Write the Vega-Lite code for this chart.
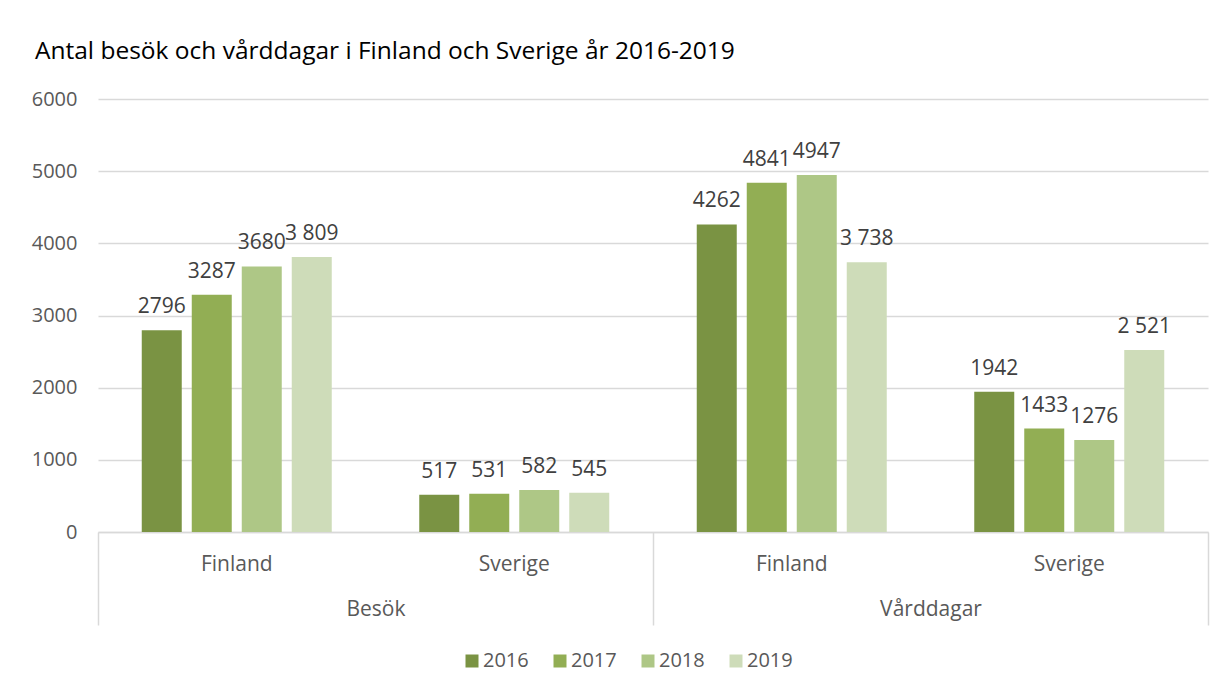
{
  "$schema": "https://vega.github.io/schema/vega-lite/v6.json",
  "width": 1110,
  "height": 433,
  "autosize": "none",
  "padding": {"left": 98, "top": 99, "right": 18, "bottom": 158},
  "background": "white",
  "config": {"view": {"stroke": null}, "font": "Open Sans"},
  "title": {
    "text": "Antal besök och vårddagar i Finland och Sverige år 2016-2019",
    "anchor": "start",
    "frame": "group",
    "dx": -63,
    "offset": 25,
    "fontSize": 24.5,
    "font": "Open Sans",
    "fontWeight": "normal",
    "color": "#000000"
  },
  "data": {
    "values": [
      {"mått": "Besök", "land": "Finland", "grupp": "Besök Finland", "år": "2016", "antal": 2796, "etikett": "2796"},
      {"mått": "Besök", "land": "Finland", "grupp": "Besök Finland", "år": "2017", "antal": 3287, "etikett": "3287"},
      {"mått": "Besök", "land": "Finland", "grupp": "Besök Finland", "år": "2018", "antal": 3680, "etikett": "3680"},
      {"mått": "Besök", "land": "Finland", "grupp": "Besök Finland", "år": "2019", "antal": 3809, "etikett": "3 809"},
      {"mått": "Besök", "land": "Sverige", "grupp": "Besök Sverige", "år": "2016", "antal": 517, "etikett": "517"},
      {"mått": "Besök", "land": "Sverige", "grupp": "Besök Sverige", "år": "2017", "antal": 531, "etikett": "531"},
      {"mått": "Besök", "land": "Sverige", "grupp": "Besök Sverige", "år": "2018", "antal": 582, "etikett": "582"},
      {"mått": "Besök", "land": "Sverige", "grupp": "Besök Sverige", "år": "2019", "antal": 545, "etikett": "545"},
      {"mått": "Vårddagar", "land": "Finland", "grupp": "Vårddagar Finland", "år": "2016", "antal": 4262, "etikett": "4262"},
      {"mått": "Vårddagar", "land": "Finland", "grupp": "Vårddagar Finland", "år": "2017", "antal": 4841, "etikett": "4841"},
      {"mått": "Vårddagar", "land": "Finland", "grupp": "Vårddagar Finland", "år": "2018", "antal": 4947, "etikett": "4947"},
      {"mått": "Vårddagar", "land": "Finland", "grupp": "Vårddagar Finland", "år": "2019", "antal": 3738, "etikett": "3 738"},
      {"mått": "Vårddagar", "land": "Sverige", "grupp": "Vårddagar Sverige", "år": "2016", "antal": 1942, "etikett": "1942"},
      {"mått": "Vårddagar", "land": "Sverige", "grupp": "Vårddagar Sverige", "år": "2017", "antal": 1433, "etikett": "1433"},
      {"mått": "Vårddagar", "land": "Sverige", "grupp": "Vårddagar Sverige", "år": "2018", "antal": 1276, "etikett": "1276"},
      {"mått": "Vårddagar", "land": "Sverige", "grupp": "Vårddagar Sverige", "år": "2019", "antal": 2521, "etikett": "2 521"}
    ]
  },
  "layer": [
    {
      "layer": [
        {
          "mark": {"type": "bar"},
          "encoding": {
            "x": {
              "field": "grupp",
              "type": "nominal",
              "sort": ["Besök Finland", "Besök Sverige", "Vårddagar Finland", "Vårddagar Sverige"],
              "scale": {"paddingInner": 0, "paddingOuter": 0},
              "axis": {
                "orient": "bottom",
                "title": null,
                "labelExpr": "split(datum.label, ' ')[1]",
                "labelAngle": 0,
                "ticks": false,
                "domain": false,
                "grid": false,
                "labelPadding": 21,
                "labelFontSize": 21,
                "labelFont": "Open Sans",
                "labelColor": "#595959"
              }
            },
            "xOffset": {
              "field": "år",
              "type": "nominal",
              "scale": {"paddingInner": 0.2, "paddingOuter": 0.875}
            },
            "y": {
              "field": "antal",
              "type": "quantitative",
              "scale": {"domain": [0, 6000], "nice": false},
              "axis": {
                "title": null,
                "values": [0, 1000, 2000, 3000, 4000, 5000, 6000],
                "format": "d",
                "domain": false,
                "ticks": false,
                "labelPadding": 21,
                "labelFontSize": 20,
                "labelFont": "Open Sans",
                "labelColor": "#595959",
                "gridColor": "#d9d9d9",
                "gridWidth": 1.3
              }
            },
            "color": {
              "field": "år",
              "type": "nominal",
              "scale": {
                "domain": ["2016", "2017", "2018", "2019"],
                "range": ["#7a9343", "#92ae54", "#aec786", "#cedcb9"]
              },
              "legend": {
                "title": null,
                "orient": "none",
                "direction": "horizontal",
                "legendX": 364,
                "legendY": 552,
                "symbolType": "square",
                "symbolSize": 169,
                "symbolStrokeWidth": 0,
                "labelFontSize": 20,
                "labelFont": "Open Sans",
                "labelColor": "#595959",
                "labelOffset": 1,
                "columnPadding": 21
              }
            }
          }
        },
        {
          "mark": {
            "type": "text",
            "dy": -17,
            "baseline": "alphabetic",
            "fontSize": 21,
            "font": "Open Sans",
            "color": "#404040"
          },
          "encoding": {
            "x": {
              "field": "grupp",
              "type": "nominal",
              "sort": ["Besök Finland", "Besök Sverige", "Vårddagar Finland", "Vårddagar Sverige"]
            },
            "xOffset": {"field": "år", "type": "nominal"},
            "y": {"field": "antal", "type": "quantitative"},
            "text": {"field": "etikett"}
          }
        }
      ]
    },
    {
      "mark": {"type": "rule", "opacity": 0},
      "encoding": {
        "x": {
          "field": "mått",
          "type": "nominal",
          "sort": ["Besök", "Vårddagar"],
          "scale": {"paddingInner": 0, "paddingOuter": 0},
          "axis": {
            "orient": "bottom",
            "title": null,
            "labelAngle": 0,
            "tickBand": "extent",
            "tickSize": 93,
            "tickColor": "#d9d9d9",
            "tickWidth": 1.5,
            "domain": true,
            "domainColor": "#d9d9d9",
            "domainWidth": 1.5,
            "grid": false,
            "labelPadding": -27,
            "labelFontSize": 21,
            "labelFont": "Open Sans",
            "labelColor": "#595959"
          }
        }
      }
    }
  ],
  "resolve": {"scale": {"x": "independent"}}
}
